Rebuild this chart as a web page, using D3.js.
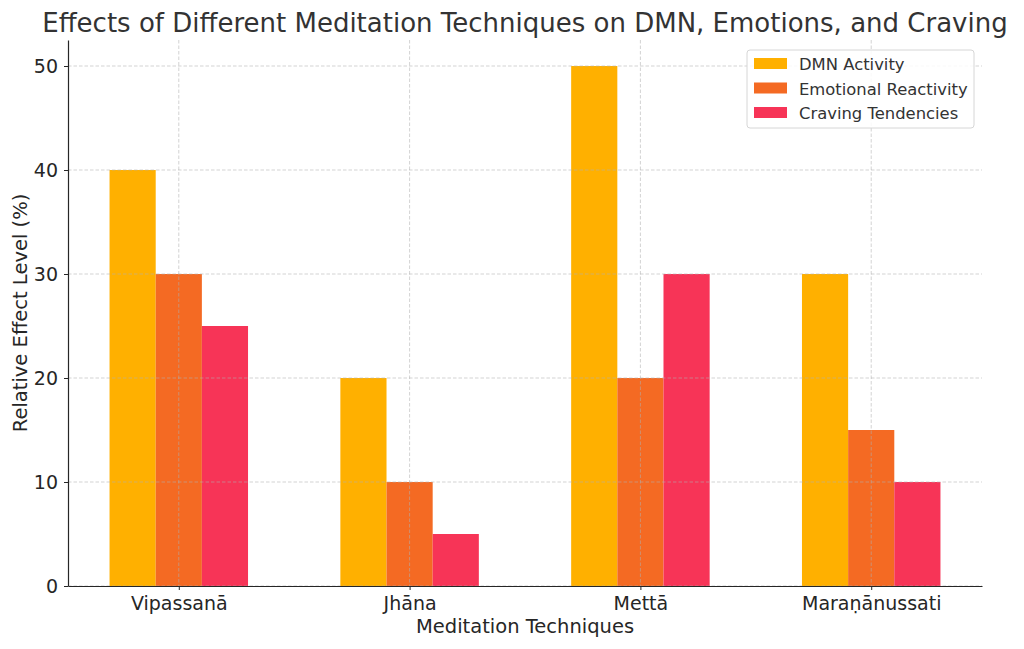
<!DOCTYPE html>
<html>
<head>
<meta charset="utf-8">
<script src="https://cdn.jsdelivr.net/npm/d3@7"></script>
<style>
  body { margin: 0; background: #fff; }
  svg { font-family: "DejaVu Sans", sans-serif; }
</style>
</head>
<body>
<svg id="chart" width="1024" height="649"></svg>
<script>
// chart data
const techniques = ["Vipassanā", "Jhāna", "Mettā", "Maraṇānussati"];
const seriesNames = ["DMN Activity", "Emotional Reactivity", "Craving Tendencies"];
const dmn = [40, 20, 50, 30];
const emotional = [30, 10, 20, 15];
const craving = [25, 5, 30, 10];
const yTicks = [0, 10, 20, 30, 40, 50];
const colors = ["#ffb000", "#f46a23", "#f73457"];

const W = 1024, H = 649;
const m = { left: 68, right: 42, top: 40, bottom: 63 };
const svg = d3.select("#chart");

const x = d3.scaleLinear().domain([-0.48, 3.48]).range([m.left, W - m.right]);
const y = d3.scaleLinear().domain([0, 52.5]).range([H - m.bottom, m.top]);
const barW = 0.2;
const series = [dmn, emotional, craving];

// bars
series.forEach((vals, si) => {
  svg.append("g").selectAll("rect")
    .data(vals)
    .join("rect")
    .attr("x", (d, i) => x(i + (si - 1) * barW - barW / 2))
    .attr("width", x(barW) - x(0))
    .attr("y", d => y(d))
    .attr("height", d => y(0) - y(d))
    .attr("fill", colors[si]);
});

// grid on top
const grid = svg.append("g").attr("stroke", "#b0b0b0").attr("stroke-opacity", 0.7)
  .attr("stroke-dasharray", "3.5,2").attr("stroke-width", 0.8);
grid.selectAll("line.h").data(yTicks).join("line").attr("class", "h")
  .attr("x1", m.left).attr("x2", W - m.right)
  .attr("y1", d => y(d)).attr("y2", d => y(d));
grid.selectAll("line.v").data(techniques).join("line").attr("class", "v")
  .attr("x1", (d, i) => x(i)).attr("x2", (d, i) => x(i))
  .attr("y1", m.top).attr("y2", H - m.bottom);

// axes
const xAxis = svg.append("g").attr("transform", `translate(0,${H - m.bottom})`)
  .call(d3.axisBottom(x).tickValues(d3.range(techniques.length))
    .tickFormat(i => techniques[i]).tickSize(4).tickPadding(4).tickSizeOuter(0));
const yAxis = svg.append("g").attr("transform", `translate(${m.left},0)`)
  .call(d3.axisLeft(y).tickValues(yTicks).tickSize(4).tickPadding(6).tickSizeOuter(0));
[xAxis, yAxis].forEach(a => {
  a.selectAll("text").attr("font-size", 19).attr("fill", "#262626")
    .attr("font-family", "DejaVu Sans");
  a.selectAll("line").attr("stroke", "#262626");
  a.select(".domain").attr("stroke", "#262626").attr("stroke-width", 1.2);
});
xAxis.selectAll("text").attr("dy", "0.85em");

// labels
svg.append("text").attr("x", (m.left + W - m.right) / 2).attr("y", 32)
  .attr("text-anchor", "middle").attr("font-size", 26).attr("fill", "#333")
  .text("Effects of Different Meditation Techniques on DMN, Emotions, and Craving");
svg.append("text").attr("x", (m.left + W - m.right) / 2).attr("y", 633)
  .attr("text-anchor", "middle").attr("font-size", 19.5).attr("fill", "#262626")
  .text("Meditation Techniques");
svg.append("text").attr("transform", `translate(27,${(m.top + H - m.bottom) / 2}) rotate(-90)`)
  .attr("text-anchor", "middle").attr("font-size", 19.5).attr("fill", "#262626")
  .text("Relative Effect Level (%)");

// legend
const lg = svg.append("g").attr("transform", "translate(747,50)");
lg.append("rect").attr("width", 227).attr("height", 78).attr("rx", 3)
  .attr("fill", "#fff").attr("fill-opacity", 0.85).attr("stroke", "#d6d6d6");
seriesNames.forEach((name, i) => {
  const row = lg.append("g").attr("transform", `translate(7,${8 + i * 24.5})`);
  row.append("rect").attr("width", 33).attr("height", 11).attr("fill", colors[i]);
  row.append("text").attr("x", 45).attr("y", 12).attr("font-size", 16.4)
    .attr("fill", "#333").text(name);
});
</script>
</body>
</html>
